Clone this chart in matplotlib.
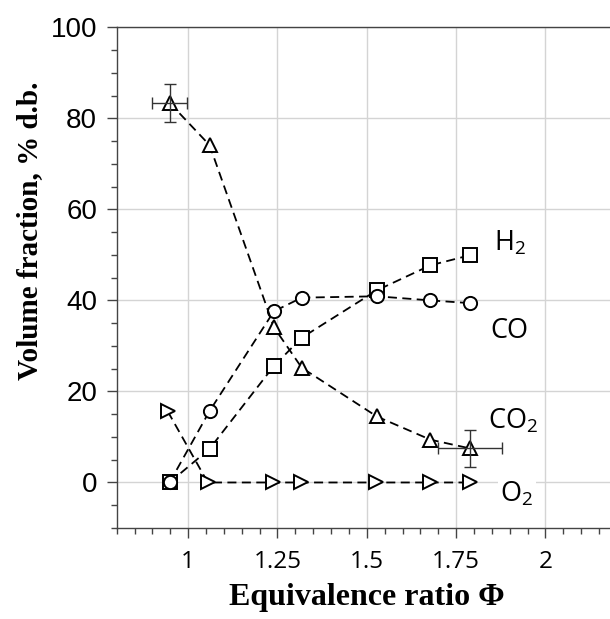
import numpy as np
import matplotlib
matplotlib.use("Agg")
import matplotlib.pyplot as plt
from matplotlib.ticker import MultipleLocator

plt.rcParams["mathtext.fontset"] = "custom"
plt.rcParams["mathtext.rm"] = "Open Sans"
plt.rcParams["mathtext.it"] = "Open Sans"

# equivalence ratio for each run
phi = [0.948, 1.06, 1.24, 1.318, 1.528, 1.678, 1.788]
phi_o2 = [0.943, 1.055, 1.237, 1.317, 1.527, 1.678, 1.788]

h2 = [0, 7.4, 25.6, 31.8, 42.2, 47.7, 49.9]
co = [0, 15.7, 37.6, 40.6, 40.9, 40.0, 39.4]
co2 = [83.4, 74.1, 34.1, 25.2, 14.5, 9.4, 7.5]
o2 = [15.6, 0, 0, 0, 0, 0, 0]

# error bars on first and last CO2 point
err_idx = [0, 6]
err_x = [0.048, 0.09]
err_y = [4.2, 4.0]

fig = plt.figure(figsize=(6.1, 6.19), dpi=100)
ax = fig.add_axes([0.1913, 0.147, 0.82, 0.809])

dash = (0, (5, 3))
mk = dict(markerfacecolor="white", markeredgecolor="black",
          markeredgewidth=1.4, color="black", linewidth=1.3, linestyle=dash)

ax.plot(phi, h2, marker="s", markersize=10, **mk)
ax.plot(phi, co, marker="o", markersize=9.5, **mk)
ax.plot(phi, co2, marker="^", markersize=10, **mk)
ax.plot(phi_o2, o2, marker=">", markersize=10, **mk)

ax.errorbar([phi[i] for i in err_idx], [co2[i] for i in err_idx],
            xerr=err_x, yerr=err_y, fmt="none", ecolor="#333333",
            elinewidth=1.0, capsize=4, capthick=1.0)

lab_font = dict(family="Open Sans", fontsize=19.5, color="black",
                bbox=dict(facecolor="white", edgecolor="none", pad=2))
ax.text(1.90, 52.5, "H$_2$", ha="center", va="center", **lab_font)
ax.text(1.90, 33.2, "CO", ha="center", va="center", **lab_font)
ax.text(1.91, 13.5, "CO$_2$", ha="center", va="center", **lab_font)
ax.text(1.92, -2.6, "O$_2$", ha="center", va="center", **lab_font)

ax.set_xlim(0.8, 2.2)
ax.set_ylim(-10, 100)
ax.xaxis.set_major_locator(MultipleLocator(0.25))
ax.xaxis.set_minor_locator(MultipleLocator(0.05))
ax.yaxis.set_major_locator(MultipleLocator(20))
ax.yaxis.set_minor_locator(MultipleLocator(5))
ax.set_xticks([1, 1.25, 1.5, 1.75, 2])
ax.set_xticklabels(["1", "1.25", "1.5", "1.75", "2"])
ax.grid(True, which="major", color="#d4d4d4", linewidth=1.0)
ax.set_axisbelow(True)

for s in ax.spines.values():
    s.set_color("#444444")
    s.set_linewidth(1.0)
ax.spines["right"].set_visible(False)

ax.tick_params(which="major", length=7, width=1, color="#444444")
ax.tick_params(which="minor", length=4, width=1, color="#444444")
ax.tick_params(axis="x", pad=9)
ax.tick_params(axis="y", pad=7)
for t in ax.get_xticklabels():
    t.set_fontfamily("Open Sans")
    t.set_fontsize(17.5)
for t in ax.get_yticklabels():
    t.set_fontfamily("Liberation Sans")
    t.set_fontsize(20)

ax.set_xlabel("Equivalence ratio \u03a6", family="Liberation Serif",
              fontweight="bold", fontsize=23, labelpad=6)
ax.set_ylabel("Volume fraction, % d.b.", family="Liberation Serif",
              fontweight="bold", fontsize=21)
ax.yaxis.set_label_coords(-0.148, 0.593)

plt.savefig("out.png", dpi=100)
